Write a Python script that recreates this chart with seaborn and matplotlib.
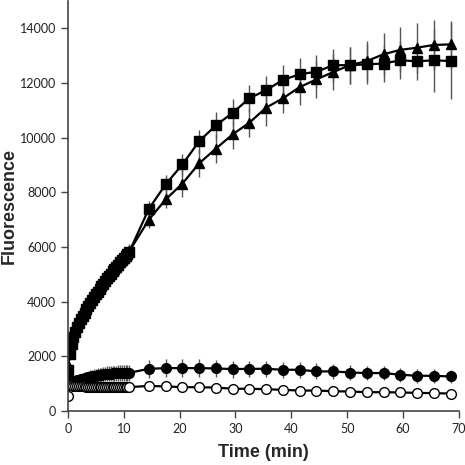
import numpy as np
import pandas as pd
import matplotlib
matplotlib.use("Agg")
import matplotlib.pyplot as plt
import seaborn as sns

# time points (min): dense early phase, then every 3 min
t_early = [0, 0.33, 0.67, 1.0, 1.33, 1.67, 2.0, 2.33, 2.67, 3.0, 3.33, 3.67,
           4.0, 4.33, 4.67, 5.0, 5.33, 5.67, 6.0, 6.33, 6.67, 7.0, 7.33, 7.67,
           8.0, 8.33, 8.67, 9.0, 9.33, 9.67, 10.0, 10.33, 10.67, 11.0]
t_late = [14.5, 17.5, 20.5, 23.5, 26.5, 29.5, 32.5, 35.5, 38.5, 41.5, 44.5,
          47.5, 50.5, 53.5, 56.5, 59.5, 62.5, 65.5, 68.5]

# filled squares
sq_early = [1500, 2100, 2450, 2700, 2900, 3060, 3210, 3350, 3480, 3600, 3720, 3840,
            3950, 4060, 4170, 4270, 4370, 4470, 4570, 4660, 4760, 4850, 4940, 5030,
            5110, 5200, 5280, 5360, 5440, 5520, 5600, 5680, 5760, 5830]
sq_late = [7400, 8290, 9020, 9870, 10450, 10910, 11440, 11740, 12110, 12320, 12410,
           12650, 12650, 12680, 12710, 12830, 12790, 12830, 12800]
sq_err_early = [250] * 34
sq_err_late = [300, 350, 370, 420, 490, 490, 490, 510, 540, 610, 610, 610, 680,
               730, 660, 700, 700, 1160, 1380]

# filled triangles
tr_early = [1700, 2300, 2620, 2860, 3050, 3210, 3350, 3480, 3600, 3720, 3830, 3940,
            4040, 4140, 4240, 4340, 4430, 4520, 4610, 4700, 4790, 4870, 4960, 5040,
            5120, 5200, 5280, 5360, 5440, 5520, 5600, 5680, 5760, 5850]
tr_late = [7000, 7740, 8320, 9060, 9600, 10120, 10550, 11100, 11440, 11850, 12130,
           12400, 12650, 12800, 13050, 13210, 13290, 13390, 13410]
tr_err_early = [250] * 34
tr_err_late = [300, 300, 490, 500, 520, 540, 540, 670, 530, 660, 670, 670, 680,
               730, 790, 820, 920, 920, 860]

# filled circles
fc_early = [1150, 1080, 1070, 1090, 1110, 1130, 1150, 1170, 1190, 1210, 1225, 1240,
            1255, 1270, 1285, 1300, 1310, 1320, 1330, 1340, 1350, 1360, 1365, 1370,
            1375, 1380, 1385, 1390, 1395, 1400, 1400, 1400, 1400, 1400]
fc_late = [1545, 1570, 1570, 1570, 1560, 1535, 1545, 1545, 1510, 1510, 1450, 1450,
           1410, 1390, 1390, 1330, 1290, 1290, 1265]
fc_err_early = [150, 150, 160, 170, 180, 190, 200, 200, 210, 220, 220, 230,
                230, 240, 240, 250, 250, 250, 260, 260, 260, 270, 270, 270,
                280, 280, 280, 280, 290, 290, 290, 290, 290, 290]
fc_err_late = [330, 330, 320, 320, 310, 310, 300, 300, 300, 290, 290, 280, 280,
               270, 270, 260, 260, 250, 245]

# open circles
oc_early = [560, 960, 940, 930, 920, 915, 910, 905, 900, 900, 895, 895,
            895, 890, 890, 890, 890, 885, 885, 885, 885, 880, 880, 880,
            880, 880, 880, 875, 875, 875, 875, 875, 875, 875]
oc_late = [920, 900, 875, 870, 860, 815, 815, 800, 775, 750, 750, 725, 715,
           690, 690, 680, 665, 655, 640]
oc_err_early = [40] * 34
oc_err_late = [40] * 19

series = [
    (sq_early + sq_late, sq_err_early + sq_err_late, "s", "black"),
    (tr_early + tr_late, tr_err_early + tr_err_late, "^", "black"),
    (fc_early + fc_late, fc_err_early + fc_err_late, "o", "black"),
    (oc_early + oc_late, oc_err_early + oc_err_late, "o", "white"),
]
times = t_early + t_late

sns.set_style("ticks")
fig = plt.figure(figsize=(4.65, 4.65), dpi=100)
ax = fig.add_axes([0.146, 0.116, 0.841, 0.882])

for vals, errs, mk, face in series:
    ax.errorbar(times, vals, yerr=errs, fmt="none", ecolor="#555555",
                elinewidth=1.0, capsize=0, zorder=1)
    sns.lineplot(x=times, y=vals, ax=ax, color="black", linewidth=1.6,
                 marker=mk, markersize=7, markerfacecolor=face,
                 markeredgecolor="black", markeredgewidth=1.0, zorder=2)

ax.set_xlim(0, 70)
ax.set_ylim(0, 15000)
ax.set_xticks(range(0, 71, 10))
ax.set_yticks(range(0, 14001, 2000))
sns.despine(ax=ax)
for s in ["left", "bottom"]:
    ax.spines[s].set_color("#444444")
    ax.spines[s].set_linewidth(1.2)
ax.tick_params(direction="out", length=5, width=1.0, colors="#444444",
               labelcolor="#222222", labelsize=9)
for lab in ax.get_xticklabels() + ax.get_yticklabels():
    lab.set_family(["Lato", "DejaVu Sans"])

ax.set_xlabel("Time (min)", fontsize=13, fontweight="bold",
              family=["Liberation Sans", "DejaVu Sans"])
ax.set_ylabel("Fluorescence", fontsize=13, fontweight="bold",
              family=["Liberation Sans", "DejaVu Sans"])
ax.xaxis.set_label_coords(0.5, -0.08)
ax.yaxis.set_label_coords(-0.128, 0.5)

fig.savefig("out.png", dpi=100)
